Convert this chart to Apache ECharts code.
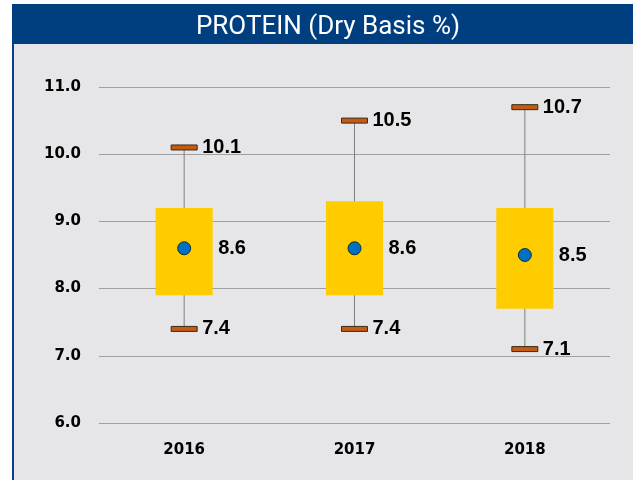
<!DOCTYPE html>
<html><head><meta charset="utf-8">
<script src="https://cdn.jsdelivr.net/npm/echarts@6/dist/echarts.min.js"></script>
<style>html,body{margin:0;padding:0;background:#fff}#c{width:633px;height:480px}</style>
</head><body><div id="c"></div>
<script>
var categories = ['2016', '2017', '2018'];
var minVals = [7.4, 7.4, 7.1];
var q1Vals = [7.9, 7.9, 7.7];
var q3Vals = [9.2, 9.3, 9.2];
var maxVals = [10.1, 10.5, 10.7];
var meanVals = [8.6, 8.6, 8.5];
var yTicks = [6, 7, 8, 9, 10, 11];

var chart = echarts.init(document.getElementById('c'), null, {renderer: 'canvas'});
var boxData = categories.map(function (c, i) {
  return [i, minVals[i], q1Vals[i], q3Vals[i], maxVals[i]];
});
var lblFont = 'bold 20px "Liberation Sans", Arial, sans-serif';
var axisFont = '"DejaVu Sans", sans-serif';

chart.setOption({
  backgroundColor: '#fff',
  animation: false,
  graphic: [
    {type: 'rect', z: -10, shape: {x: 13, y: 44, width: 620, height: 436}, style: {fill: '#E6E6E8'}},
    {type: 'rect', z: -10, shape: {x: 12, y: 4, width: 621, height: 40}, style: {fill: '#003F7F'}},
    {type: 'rect', z: -10, shape: {x: 12, y: 44, width: 2, height: 436}, style: {fill: '#0A3F8A'}}
  ],
  title: {
    text: 'PROTEIN (Dry Basis %)',
    left: 323, top: 9, textAlign: 'center',
    textStyle: {color: '#fff', fontSize: 26, fontWeight: 'normal', fontFamily: 'Roboto, sans-serif'}
  },
  grid: {left: 99, right: 23, top: 87, bottom: 57},
  xAxis: {
    type: 'category', data: categories,
    axisLine: {show: false}, axisTick: {show: false},
    axisLabel: {margin: 20, color: '#000', fontWeight: 'bold', fontSize: 15, fontFamily: axisFont}
  },
  yAxis: {
    type: 'value', min: yTicks[0], max: yTicks[yTicks.length - 1], interval: 1,
    axisLine: {show: false}, axisTick: {show: false},
    splitLine: {lineStyle: {color: '#A0A0A0', width: 1}},
    axisLabel: {margin: 18, color: '#000', fontWeight: 'bold', fontSize: 15, fontFamily: axisFont,
      formatter: function (v) { return v.toFixed(1); }}
  },
  series: [
    {
      type: 'custom',
      data: boxData,
      encode: {x: 0, y: [1, 2, 3, 4]},
      renderItem: function (params, api) {
        var i = api.value(0);
        var pMin = api.coord([i, api.value(1)]);
        var pQ1 = api.coord([i, api.value(2)]);
        var pQ3 = api.coord([i, api.value(3)]);
        var pMax = api.coord([i, api.value(4)]);
        var bw = api.size([1, 0])[0] * 0.335;
        var cx = pMin[0];
        var capW = 26, capH = 5;
        return {
          type: 'group',
          children: [
            {type: 'line', shape: {x1: cx, y1: pMax[1], x2: cx, y2: pMin[1]}, style: {stroke: '#7F7F7F', lineWidth: 1}},
            {type: 'rect', shape: {x: cx - bw / 2, y: pQ3[1], width: bw, height: pQ1[1] - pQ3[1]}, style: {fill: '#FFCC00'}},
            {type: 'rect', shape: {x: cx - capW / 2, y: pMax[1] - capH / 2, width: capW, height: capH}, style: {fill: '#C55A11', stroke: '#3A2A1A', lineWidth: 1}},
            {type: 'rect', shape: {x: cx - capW / 2, y: pMin[1] - capH / 2, width: capW, height: capH}, style: {fill: '#C55A11', stroke: '#3A2A1A', lineWidth: 1}},
            {type: 'text', x: cx + 18, y: pMax[1], style: {text: api.value(4).toFixed(1), font: lblFont, fill: '#000', verticalAlign: 'middle', align: 'left'}},
            {type: 'text', x: cx + 18, y: pMin[1], style: {text: api.value(1).toFixed(1), font: lblFont, fill: '#000', verticalAlign: 'middle', align: 'left'}}
          ]
        };
      }
    },
    {
      type: 'scatter',
      data: meanVals,
      symbol: 'circle', symbolSize: 13,
      itemStyle: {color: '#0070C0', borderColor: '#1A2A3A', borderWidth: 1, opacity: 1},
      label: {show: true, position: 'right', distance: 27, color: '#000', fontWeight: 'bold', fontSize: 20,
        fontFamily: '"Liberation Sans", Arial, sans-serif', formatter: function (p) { return p.value.toFixed(1); }},
      z: 5
    }
  ]
});
</script></body></html>
